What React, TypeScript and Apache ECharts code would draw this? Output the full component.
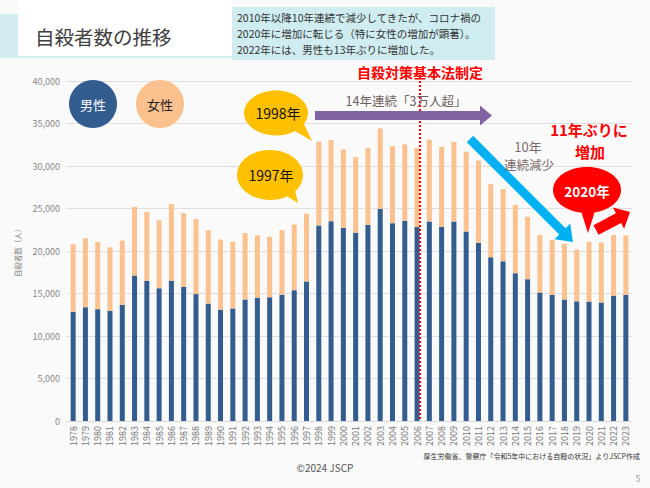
import React, { useEffect, useRef } from "react";
import * as echarts from "echarts";

const years = [
  "1978","1979","1980","1981","1982","1983","1984","1985","1986","1987",
  "1988","1989","1990","1991","1992","1993","1994","1995","1996","1997",
  "1998","1999","2000","2001","2002","2003","2004","2005","2006","2007",
  "2008","2009","2010","2011","2012","2013","2014","2015","2016","2017",
  "2018","2019","2020","2021","2022","2023",
];
const male = [
  12859, 13386, 13155, 12942, 13654, 17116, 16508, 15624, 16497, 15802,
  14934, 13818, 13102, 13242, 14296, 14468, 14560, 14874, 15393, 16416,
  23013, 23512, 22727, 22144, 23080, 24963, 23272, 23540, 22813, 23478,
  22831, 23472, 22283, 20955, 19273, 18787, 17386, 16681, 15121, 14826,
  14290, 14078, 14055, 13939, 14746, 14862,
];
const female = [
  7929, 8117, 7893, 7492, 7574, 8086, 8088, 7975, 9027, 8658,
  8808, 8618, 8244, 7842, 7808, 7383, 7119, 7571, 7711, 7975,
  9850, 9536, 9230, 8898, 9063, 9464, 9053, 9012, 9342, 9615,
  9418, 9373, 9407, 9696, 8585, 8496, 8041, 7344, 6776, 6495,
  6550, 6091, 7026, 7068, 7135, 6975,
];
const lawYear = "2006";

const FONT = "'Noto Sans CJK JP', 'Noto Sans', sans-serif";
const MALE_C = "#335c8f";
const FEMALE_C = "#fbc18f";

function arrowPts(x1: number, y1: number, x2: number, y2: number, sw: number, hw: number, hl: number) {
  const dx = x2 - x1, dy = y2 - y1;
  const L = Math.hypot(dx, dy);
  const ux = dx / L, uy = dy / L;
  const nx = -uy, ny = ux;
  const bx = x2 - ux * hl, by = y2 - uy * hl;
  return [
    [x1 + (nx * sw) / 2, y1 + (ny * sw) / 2],
    [bx + (nx * sw) / 2, by + (ny * sw) / 2],
    [bx + (nx * hw) / 2, by + (ny * hw) / 2],
    [x2, y2],
    [bx - (nx * hw) / 2, by - (ny * hw) / 2],
    [bx - (nx * sw) / 2, by - (ny * sw) / 2],
    [x1 - (nx * sw) / 2, y1 - (ny * sw) / 2],
  ];
}

function txt(x: number, y: number, text: string, size: number, fill: string, extra: any = {}) {
  return {
    type: "text",
    x,
    y,
    z: 100,
    style: {
      text,
      fontSize: size,
      fill,
      fontFamily: FONT,
      textAlign: extra.align || "center",
      textVerticalAlign: "middle",
      fontWeight: extra.weight || "normal",
    },
  };
}

function bubble(cx: number, cy: number, rx: number, ry: number, tail: number[][], color: string) {
  return [
    { type: "ellipse", z: 99, shape: { cx, cy, rx, ry }, style: { fill: color } },
    { type: "polygon", z: 99, shape: { points: tail }, style: { fill: color } },
  ];
}

export default function App() {
  const ref = useRef<HTMLDivElement>(null);
  useEffect(() => {
    if (!ref.current) return;
    const chart = echarts.init(ref.current, null, { renderer: "svg" });
    chart.setOption({
      animation: false,
      backgroundColor: "#fafafa",
      grid: { left: 67, right: 18, top: 81, bottom: 67 },
      xAxis: {
        type: "category",
        data: years,
        axisTick: { show: false },
        axisLine: { lineStyle: { color: "#d9d9d9", width: 1 } },
        axisLabel: { rotate: 90, fontSize: 9, color: "#777", fontFamily: FONT, margin: 5, interval: 0 },
      },
      yAxis: {
        type: "value",
        min: 0,
        max: 40000,
        interval: 5000,
        name: "自殺者数（人）",
        nameLocation: "middle",
        nameGap: 34,
        nameRotate: 90,
        nameTextStyle: { fontSize: 7.5, color: "#888", fontFamily: FONT },
        axisLabel: {
          fontSize: 9,
          color: "#888",
          fontFamily: FONT,
          margin: 7,
          formatter: (v: number) => v.toLocaleString("en-US"),
        },
        splitLine: { lineStyle: { color: "#dedede", width: 1 } },
      },
      series: [
        { name: "男性", type: "bar", stack: "t", data: male, barWidth: 5, itemStyle: { color: MALE_C } },
        { name: "女性", type: "bar", stack: "t", data: female, barWidth: 5, itemStyle: { color: FEMALE_C } },
      ],
    });

    const lx = (chart.convertToPixel({ xAxisIndex: 0 }, lawYear) as number) + 3;
    const ly0 = chart.convertToPixel({ yAxisIndex: 0 }, 0) as number;
    const ly1 = chart.convertToPixel({ yAxisIndex: 0 }, 40000) as number;

    const graphic: any[] = [
      // title box
      { type: "rect", z: 90, shape: { x: 0, y: 14, width: 18, height: 44 }, style: { fill: "#d3edf1" } },
      { type: "rect", z: 90, shape: { x: 18, y: 0, width: 214, height: 56 }, style: { fill: "#ffffff" } },
      { type: "rect", z: 90, shape: { x: 18, y: 56, width: 214, height: 2 }, style: { fill: "#d3edf1" } },
      txt(35, 36, "自殺者数の推移", 19.5, "#404040", { align: "left" }),
      // text box
      { type: "rect", z: 90, shape: { x: 232, y: 7, width: 263, height: 53 }, style: { fill: "#cfecf0" } },
      txt(237, 17, "2010年以降10年連続で減少してきたが、コロナ禍の", 10.5, "#333", { align: "left" }),
      txt(237, 33, "2020年に増加に転じる（特に女性の増加が顕著）。", 10.5, "#333", { align: "left" }),
      txt(237, 49.5, "2022年には、男性も13年ぶりに増加した。", 10.5, "#333", { align: "left" }),
      // law
      txt(420, 72, "自殺対策基本法制定", 14, "#ff0000", { weight: "bold" }),
      {
        type: "line",
        z: 98,
        shape: { x1: lx, y1: ly1, x2: lx, y2: ly0 },
        style: { stroke: "#ff0000", lineWidth: 2, lineDash: [2, 2] },
      },
      // legend circles
      { type: "circle", z: 99, shape: { cx: 93, cy: 104, r: 24 }, style: { fill: MALE_C } },
      txt(93, 104, "男性", 13, "#ffffff"),
      { type: "circle", z: 99, shape: { cx: 160, cy: 104, r: 24 }, style: { fill: FEMALE_C } },
      txt(160, 104, "女性", 13, "#222"),
      // yellow bubbles
      ...bubble(276, 113, 32, 22.5, [[290, 128], [302, 120], [312, 141]], "#ffc000"),
      txt(278, 113, "1998年", 14, "#111"),
      ...bubble(270, 175, 33, 25, [[280, 192], [294, 186], [298, 203]], "#ffc000"),
      txt(271, 175, "1997年", 14, "#111"),
      // purple arrow
      { type: "polygon", z: 99, shape: { points: arrowPts(315, 115.5, 492, 115.5, 9, 20, 12) }, style: { fill: "#8064a2" } },
      txt(406, 100, "14年連続「3万人超」", 12.5, "#6f6060"),
      // blue arrow
      { type: "polygon", z: 99, shape: { points: arrowPts(470, 139, 573, 242, 9, 22, 15) }, style: { fill: "#00b0f0" } },
      txt(528, 146, "10年", 13, "#7a6a6a"),
      txt(529, 164, "連続減少", 12.5, "#7a6a6a"),
      // red texts
      txt(589, 129, "11年ぶりに", 15, "#ff0000", { weight: "bold" }),
      txt(590, 151, "増加", 15, "#ff0000", { weight: "bold" }),
      ...bubble(587, 190, 34, 23, [[580, 208], [596, 208], [588, 233]], "#ff0000"),
      txt(587, 191, "2020年", 13.5, "#ffffff", { weight: "bold" }),
      { type: "polygon", z: 99, shape: { points: arrowPts(596, 230, 630, 212, 11, 24, 13) }, style: { fill: "#ff0000" } },
      // footer
      txt(640, 456, "厚生労働省、警察庁「令和5年中における自殺の状況」よりJSCP作成", 7, "#333", { align: "right" }),
      txt(325, 467, "©2024 JSCP", 10, "#555"),
      txt(638, 478, "5", 9, "#999"),
    ];
    chart.setOption({ graphic });
    return () => chart.dispose();
  }, []);
  return <div ref={ref} style={{ position: "fixed", left: 0, top: 0, width: 650, height: 488 }} />;
}
